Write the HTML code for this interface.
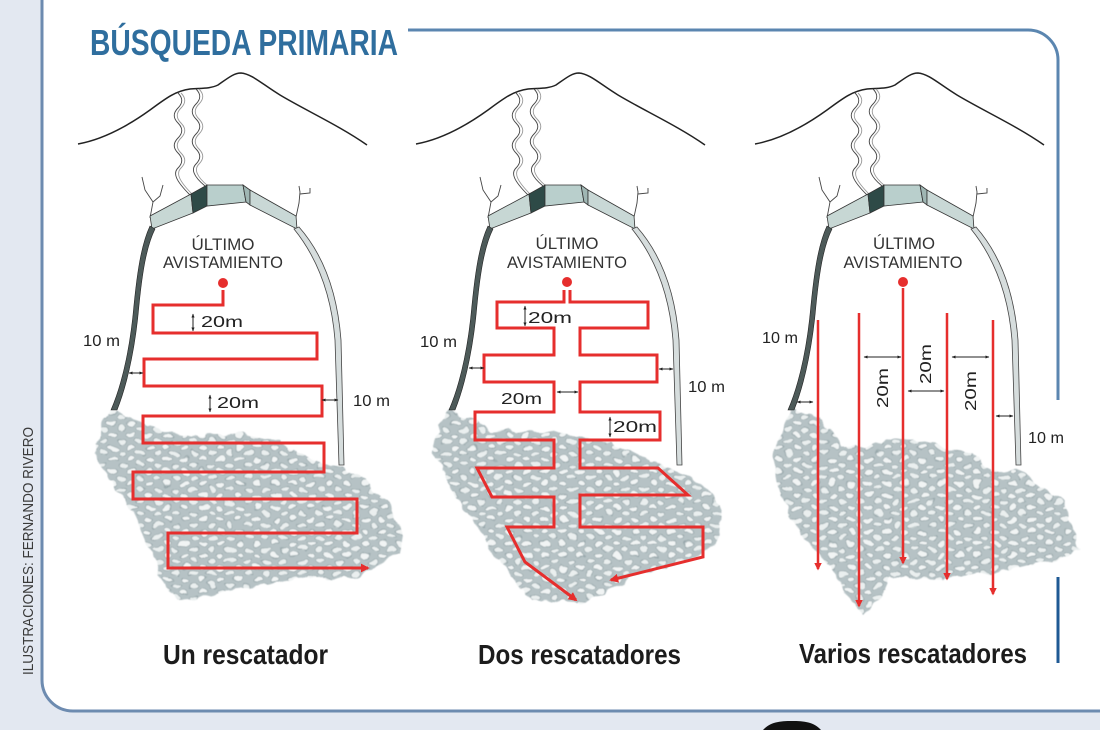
<!DOCTYPE html>
<html><head><meta charset="utf-8"><style>
html,body{margin:0;padding:0;background:#e3e8f1;width:1100px;height:730px;overflow:hidden;}
svg{display:block;position:absolute;left:0;top:0;}
.lab{font-family:"Liberation Sans Narrow","Liberation Sans",sans-serif;font-size:16px;fill:#222;}
.ult{font-family:"Liberation Sans Narrow","Liberation Sans",sans-serif;font-size:17px;fill:#333;}
.cap{font-family:"Liberation Sans",sans-serif;font-weight:bold;font-size:28px;fill:#1c1c1c;}
</style></head><body>
<svg width="1100" height="730" viewBox="0 0 1100 730" xmlns="http://www.w3.org/2000/svg">
<defs>
<pattern id="rub" width="18" height="12" patternUnits="userSpaceOnUse">
<rect width="18" height="12" fill="#b6c2c5"/>
<ellipse cx="5" cy="3.5" rx="4.5" ry="2.7" fill="#f1f4f4" stroke="#93a3a7" stroke-width="0.7"/>
<ellipse cx="14" cy="9.5" rx="4.5" ry="2.7" fill="#eaefef" stroke="#93a3a7" stroke-width="0.7"/>
<ellipse cx="-4" cy="9.5" rx="4.5" ry="2.7" fill="#eaefef" stroke="#93a3a7" stroke-width="0.7"/>
</pattern>
<filter id="rough" x="-10%" y="-10%" width="120%" height="120%">
<feTurbulence type="fractalNoise" baseFrequency="0.07" numOctaves="2" seed="4"/>
<feDisplacementMap in="SourceGraphic" scale="10" xChannelSelector="R" yChannelSelector="G" result="d"/>
<feGaussianBlur in="d" stdDeviation="0.6"/>
</filter>
<marker id="ab" viewBox="0 0 10 10" refX="9" refY="5" markerWidth="4" markerHeight="4" orient="auto-start-reverse"><path d="M0,1 L10,5 L0,9z" fill="#222"/></marker>
<marker id="ar" viewBox="0 0 10 10" refX="8" refY="5" markerWidth="3" markerHeight="3" orient="auto"><path d="M0,0 L10,5 L0,10z" fill="#e62e2d"/></marker>
</defs>

<!-- white panel -->
<path d="M43,0 H1100 V710 H73 A30,30 0 0 1 43,680 Z" fill="#ffffff"/>
<!-- frame lines -->
<path d="M42,0 V680 A31,31 0 0 0 73,711 H1100" fill="none" stroke="#6d8bb0" stroke-width="3"/>
<path d="M408,30 H1028 A30,30 0 0 1 1058,60 V400" fill="none" stroke="#5b86b0" stroke-width="3"/>
<path d="M1058,577 V663" fill="none" stroke="#1f5a94" stroke-width="3"/>
<path d="M763,730 C770,722 780,721 792,721 C804,721 814,722 821,730 Z" fill="#111"/>

<!-- title -->
<text x="90" y="55" font-family="'Liberation Sans',sans-serif" font-weight="bold" font-size="36" fill="#2f6e9e" textLength="308" lengthAdjust="spacingAndGlyphs">BÚSQUEDA PRIMARIA</text>
<!-- credit -->
<text transform="translate(33,675) rotate(-90)" font-family="'Liberation Sans Narrow','Liberation Sans',sans-serif" font-size="15" fill="#3a3a3a" textLength="248" lengthAdjust="spacingAndGlyphs">ILUSTRACIONES: FERNANDO RIVERO</text>

<!-- ===== rubble ===== -->
<g filter="url(#rough)">
<polygon fill="url(#rub)" points="112,410 153,427 193,437 243,433 277,440 323,465 343,467 367,483 390,503 403,533 400,553 380,563 360,577 293,580 227,590 200,598 177,600 160,580 153,553 127,503 110,480 95,452 100,430"/>
<polygon fill="url(#rub)" points="450,410 493,430 560,433 610,443 670,468 700,483 720,503 717,543 693,560 643,573 610,590 583,603 533,600 510,577 483,537 460,503 433,452 440,425"/>
<polygon fill="url(#rub)" points="790,410 820,417 840,447 867,447 897,437 927,442 973,453 993,473 1017,468 1040,487 1063,500 1073,527 1080,550 1060,560 1023,567 990,573 940,580 890,577 880,600 863,613 850,600 833,570 807,543 783,500 773,457"/>
</g>

<!-- ===== volcano panel 1 ===== -->
<g>
<path d="M78,144 C100,140 125,128 150,110 C165,99 175,91 190,89 C200,88 210,89 218,85 C228,78 234,73 241,73 C252,74 262,84 280,95 C305,110 340,126 367,145" fill="none" stroke="#222" stroke-width="1.5"/>
<g fill="none" stroke-width="0.9">
<path d="M178,93 c5,5 5,10 0,15 c-5,5 -5,10 0,15 c5,5 5,10 0,15 c-5,5 -5,10 0,15 c5,5 5,10 0,15 c-5,5 -3,12 12,27" stroke="#444"/>
<path d="M181,93 c5,5 5,10 0,15 c-5,5 -5,10 0,15 c5,5 5,10 0,15 c-5,5 -5,10 0,15 c5,5 5,10 0,15 c-5,5 -3,12 12,27" stroke="#999"/>
<path d="M196,89 c5,5 5,10 0,15 c-5,5 -5,10 0,15 c5,5 5,10 0,15 c-5,5 -5,10 0,15 c5,5 5,10 0,15 c-5,5 -3,12 9,22" stroke="#444"/>
<path d="M199,89 c5,5 5,10 0,15 c-5,5 -5,10 0,15 c5,5 5,10 0,15 c-5,5 -5,10 0,15 c5,5 5,10 0,15 c-5,5 -3,12 9,22" stroke="#999"/>
</g>
<path d="M150,218 L153,202 L145,190 L142,177 M153,202 L160,196 L163,185 M296,217 L299,203 L300,192 L299,186 M300,194 L310,193 L310,188" fill="none" stroke="#444" stroke-width="0.9"/>
<g stroke="#333" stroke-width="0.8">
<polygon points="150,216 191,194 193,213 152,229" fill="#c7d7d4"/>
<polygon points="191,194 207,185 207,206 193,213" fill="#2e4a47"/>
<polygon points="207,185 243,185 246,202 207,206" fill="#b9cfcc"/>
<polygon points="243,185 250,190 250,205 246,202" fill="#9fb6b3"/>
<polygon points="250,190 296,216 297,229 250,205" fill="#c9d8d6"/>
</g>
<path d="M150,226 C141,245 137,275 134,305 C131,340 124,380 111,410 L117,410 C129,380 136,340 139,305 C142,275 146,247 155,229 Z" fill="#4d5a59" stroke="#222" stroke-width="0.6"/>
<path d="M294,229 C315,255 331,290 335,340 L339,465 L344,465 L341,340 C337,288 321,252 299,227 Z" fill="#d6dddd" stroke="#444" stroke-width="0.8"/>
</g>
<g transform="translate(338,0)">
<path d="M78,144 C100,140 125,128 150,110 C165,99 175,91 190,89 C200,88 210,89 218,85 C228,78 234,73 241,73 C252,74 262,84 280,95 C305,110 340,126 367,145" fill="none" stroke="#222" stroke-width="1.5"/>
<g fill="none" stroke-width="0.9">
<path d="M178,93 c5,5 5,10 0,15 c-5,5 -5,10 0,15 c5,5 5,10 0,15 c-5,5 -5,10 0,15 c5,5 5,10 0,15 c-5,5 -3,12 12,27" stroke="#444"/>
<path d="M181,93 c5,5 5,10 0,15 c-5,5 -5,10 0,15 c5,5 5,10 0,15 c-5,5 -5,10 0,15 c5,5 5,10 0,15 c-5,5 -3,12 12,27" stroke="#999"/>
<path d="M196,89 c5,5 5,10 0,15 c-5,5 -5,10 0,15 c5,5 5,10 0,15 c-5,5 -5,10 0,15 c5,5 5,10 0,15 c-5,5 -3,12 9,22" stroke="#444"/>
<path d="M199,89 c5,5 5,10 0,15 c-5,5 -5,10 0,15 c5,5 5,10 0,15 c-5,5 -5,10 0,15 c5,5 5,10 0,15 c-5,5 -3,12 9,22" stroke="#999"/>
</g>
<path d="M150,218 L153,202 L145,190 L142,177 M153,202 L160,196 L163,185 M296,217 L299,203 L300,192 L299,186 M300,194 L310,193 L310,188" fill="none" stroke="#444" stroke-width="0.9"/>
<g stroke="#333" stroke-width="0.8">
<polygon points="150,216 191,194 193,213 152,229" fill="#c7d7d4"/>
<polygon points="191,194 207,185 207,206 193,213" fill="#2e4a47"/>
<polygon points="207,185 243,185 246,202 207,206" fill="#b9cfcc"/>
<polygon points="243,185 250,190 250,205 246,202" fill="#9fb6b3"/>
<polygon points="250,190 296,216 297,229 250,205" fill="#c9d8d6"/>
</g>
<path d="M150,226 C141,245 137,275 134,305 C131,340 124,380 111,410 L117,410 C129,380 136,340 139,305 C142,275 146,247 155,229 Z" fill="#4d5a59" stroke="#222" stroke-width="0.6"/>
<path d="M294,229 C315,255 331,290 335,340 L339,465 L344,465 L341,340 C337,288 321,252 299,227 Z" fill="#d6dddd" stroke="#444" stroke-width="0.8"/>
</g>
<g transform="translate(677,0)">
<path d="M78,144 C100,140 125,128 150,110 C165,99 175,91 190,89 C200,88 210,89 218,85 C228,78 234,73 241,73 C252,74 262,84 280,95 C305,110 340,126 367,145" fill="none" stroke="#222" stroke-width="1.5"/>
<g fill="none" stroke-width="0.9">
<path d="M178,93 c5,5 5,10 0,15 c-5,5 -5,10 0,15 c5,5 5,10 0,15 c-5,5 -5,10 0,15 c5,5 5,10 0,15 c-5,5 -3,12 12,27" stroke="#444"/>
<path d="M181,93 c5,5 5,10 0,15 c-5,5 -5,10 0,15 c5,5 5,10 0,15 c-5,5 -5,10 0,15 c5,5 5,10 0,15 c-5,5 -3,12 12,27" stroke="#999"/>
<path d="M196,89 c5,5 5,10 0,15 c-5,5 -5,10 0,15 c5,5 5,10 0,15 c-5,5 -5,10 0,15 c5,5 5,10 0,15 c-5,5 -3,12 9,22" stroke="#444"/>
<path d="M199,89 c5,5 5,10 0,15 c-5,5 -5,10 0,15 c5,5 5,10 0,15 c-5,5 -5,10 0,15 c5,5 5,10 0,15 c-5,5 -3,12 9,22" stroke="#999"/>
</g>
<path d="M150,218 L153,202 L145,190 L142,177 M153,202 L160,196 L163,185 M296,217 L299,203 L300,192 L299,186 M300,194 L310,193 L310,188" fill="none" stroke="#444" stroke-width="0.9"/>
<g stroke="#333" stroke-width="0.8">
<polygon points="150,216 191,194 193,213 152,229" fill="#c7d7d4"/>
<polygon points="191,194 207,185 207,206 193,213" fill="#2e4a47"/>
<polygon points="207,185 243,185 246,202 207,206" fill="#b9cfcc"/>
<polygon points="243,185 250,190 250,205 246,202" fill="#9fb6b3"/>
<polygon points="250,190 296,216 297,229 250,205" fill="#c9d8d6"/>
</g>
<path d="M150,226 C141,245 137,275 134,305 C131,340 124,380 111,410 L117,410 C129,380 136,340 139,305 C142,275 146,247 155,229 Z" fill="#4d5a59" stroke="#222" stroke-width="0.6"/>
<path d="M294,229 C315,255 331,290 335,340 L339,465 L344,465 L341,340 C337,288 321,252 299,227 Z" fill="#d6dddd" stroke="#444" stroke-width="0.8"/>
</g>

<!-- ÚLTIMO AVISTAMIENTO -->
<text class="ult" x="223" y="250" text-anchor="middle" textLength="63" lengthAdjust="spacingAndGlyphs">ÚLTIMO</text>
<text class="ult" x="223" y="268" text-anchor="middle" textLength="120" lengthAdjust="spacingAndGlyphs">AVISTAMIENTO</text>
<text class="ult" x="567" y="249" text-anchor="middle" textLength="63" lengthAdjust="spacingAndGlyphs">ÚLTIMO</text>
<text class="ult" x="567" y="268" text-anchor="middle" textLength="120" lengthAdjust="spacingAndGlyphs">AVISTAMIENTO</text>
<text class="ult" x="904" y="249" text-anchor="middle" textLength="62" lengthAdjust="spacingAndGlyphs">ÚLTIMO</text>
<text class="ult" x="903" y="268" text-anchor="middle" textLength="119" lengthAdjust="spacingAndGlyphs">AVISTAMIENTO</text>

<!-- red paths -->
<g fill="none" stroke="#e62e2d" stroke-width="3" stroke-linejoin="miter">
<path d="M223,290 V305 H153 V333 H317 V359 H144 V386 H322 V416 H143 V443 H324 V472 H133 V499 H357 V533 H168 V568 H368" marker-end="url(#ar)"/>
<path d="M564,290 V302 H497 V328 H554 V355 H484 V382 H554 V412 H475 V440 H554 V468 H477 L492,497 H554 V527 H507 L525,562 L576,600" marker-end="url(#ar)"/>
<path d="M570,290 V302 H648 V328 H580 V355 H657 V382 H580 V412 H660 V440 H580 V468 H658 L688,495 H580 V527 H703 V557 L611,580" marker-end="url(#ar)"/>
</g>
<g fill="none" stroke="#e62e2d" stroke-width="2.5">
<path d="M818,320 V569" marker-end="url(#ar)"/>
<path d="M859,313 V606" marker-end="url(#ar)"/>
<path d="M903,288 V563" marker-end="url(#ar)"/>
<path d="M947,313 V579" marker-end="url(#ar)"/>
<path d="M993,320 V594" marker-end="url(#ar)"/>
</g>
<circle cx="223" cy="283" r="5" fill="#e62e2d"/>
<circle cx="567" cy="282" r="5" fill="#e62e2d"/>
<circle cx="903" cy="282" r="5" fill="#e62e2d"/>

<!-- dimension arrows -->
<g stroke="#222" stroke-width="1" fill="none" marker-start="url(#ab)" marker-end="url(#ab)">
<line x1="193" y1="314" x2="193" y2="331"/>
<line x1="210" y1="395" x2="210" y2="412"/>
<line x1="129" y1="373" x2="143" y2="373"/>
<line x1="322" y1="400" x2="338" y2="400"/>
<line x1="525" y1="306" x2="525" y2="326"/>
<line x1="469" y1="368" x2="484" y2="368"/>
<line x1="557" y1="392" x2="578" y2="392"/>
<line x1="659" y1="369" x2="673" y2="369"/>
<line x1="610" y1="417" x2="610" y2="437"/>
<line x1="797" y1="402" x2="813" y2="402"/>
<line x1="864" y1="357" x2="901" y2="357"/>
<line x1="908" y1="391" x2="944" y2="391"/>
<line x1="952" y1="357" x2="989" y2="357"/>
<line x1="996" y1="416" x2="1013" y2="416"/>
</g>

<!-- labels -->
<text class="lab" x="201" y="327" textLength="42" lengthAdjust="spacingAndGlyphs">20m</text>
<text class="lab" x="217" y="408" textLength="42" lengthAdjust="spacingAndGlyphs">20m</text>
<text class="lab" x="83" y="346" textLength="37" lengthAdjust="spacingAndGlyphs">10 m</text>
<text class="lab" x="353" y="406" textLength="37" lengthAdjust="spacingAndGlyphs">10 m</text>

<text class="lab" x="528" y="323" textLength="44" lengthAdjust="spacingAndGlyphs">20m</text>
<text class="lab" x="420" y="347" textLength="37" lengthAdjust="spacingAndGlyphs">10 m</text>
<text class="lab" x="501" y="404" textLength="41" lengthAdjust="spacingAndGlyphs">20m</text>
<text class="lab" x="688" y="392" textLength="37" lengthAdjust="spacingAndGlyphs">10 m</text>
<text class="lab" x="613" y="432" textLength="44" lengthAdjust="spacingAndGlyphs">20m</text>

<text class="lab" x="762" y="343" textLength="36" lengthAdjust="spacingAndGlyphs">10 m</text>
<text class="lab" transform="translate(888,388) rotate(-90)" text-anchor="middle" textLength="40" lengthAdjust="spacingAndGlyphs">20m</text>
<text class="lab" transform="translate(931,364) rotate(-90)" text-anchor="middle" textLength="40" lengthAdjust="spacingAndGlyphs">20m</text>
<text class="lab" transform="translate(976,391) rotate(-90)" text-anchor="middle" textLength="40" lengthAdjust="spacingAndGlyphs">20m</text>
<text class="lab" x="1028" y="443" textLength="36" lengthAdjust="spacingAndGlyphs">10 m</text>

<!-- captions -->
<text class="cap" x="163" y="664" textLength="165" lengthAdjust="spacingAndGlyphs">Un rescatador</text>
<text class="cap" x="478" y="664" textLength="203" lengthAdjust="spacingAndGlyphs">Dos rescatadores</text>
<text class="cap" x="799" y="663" textLength="228" lengthAdjust="spacingAndGlyphs">Varios rescatadores</text>
</svg>
</body></html>
